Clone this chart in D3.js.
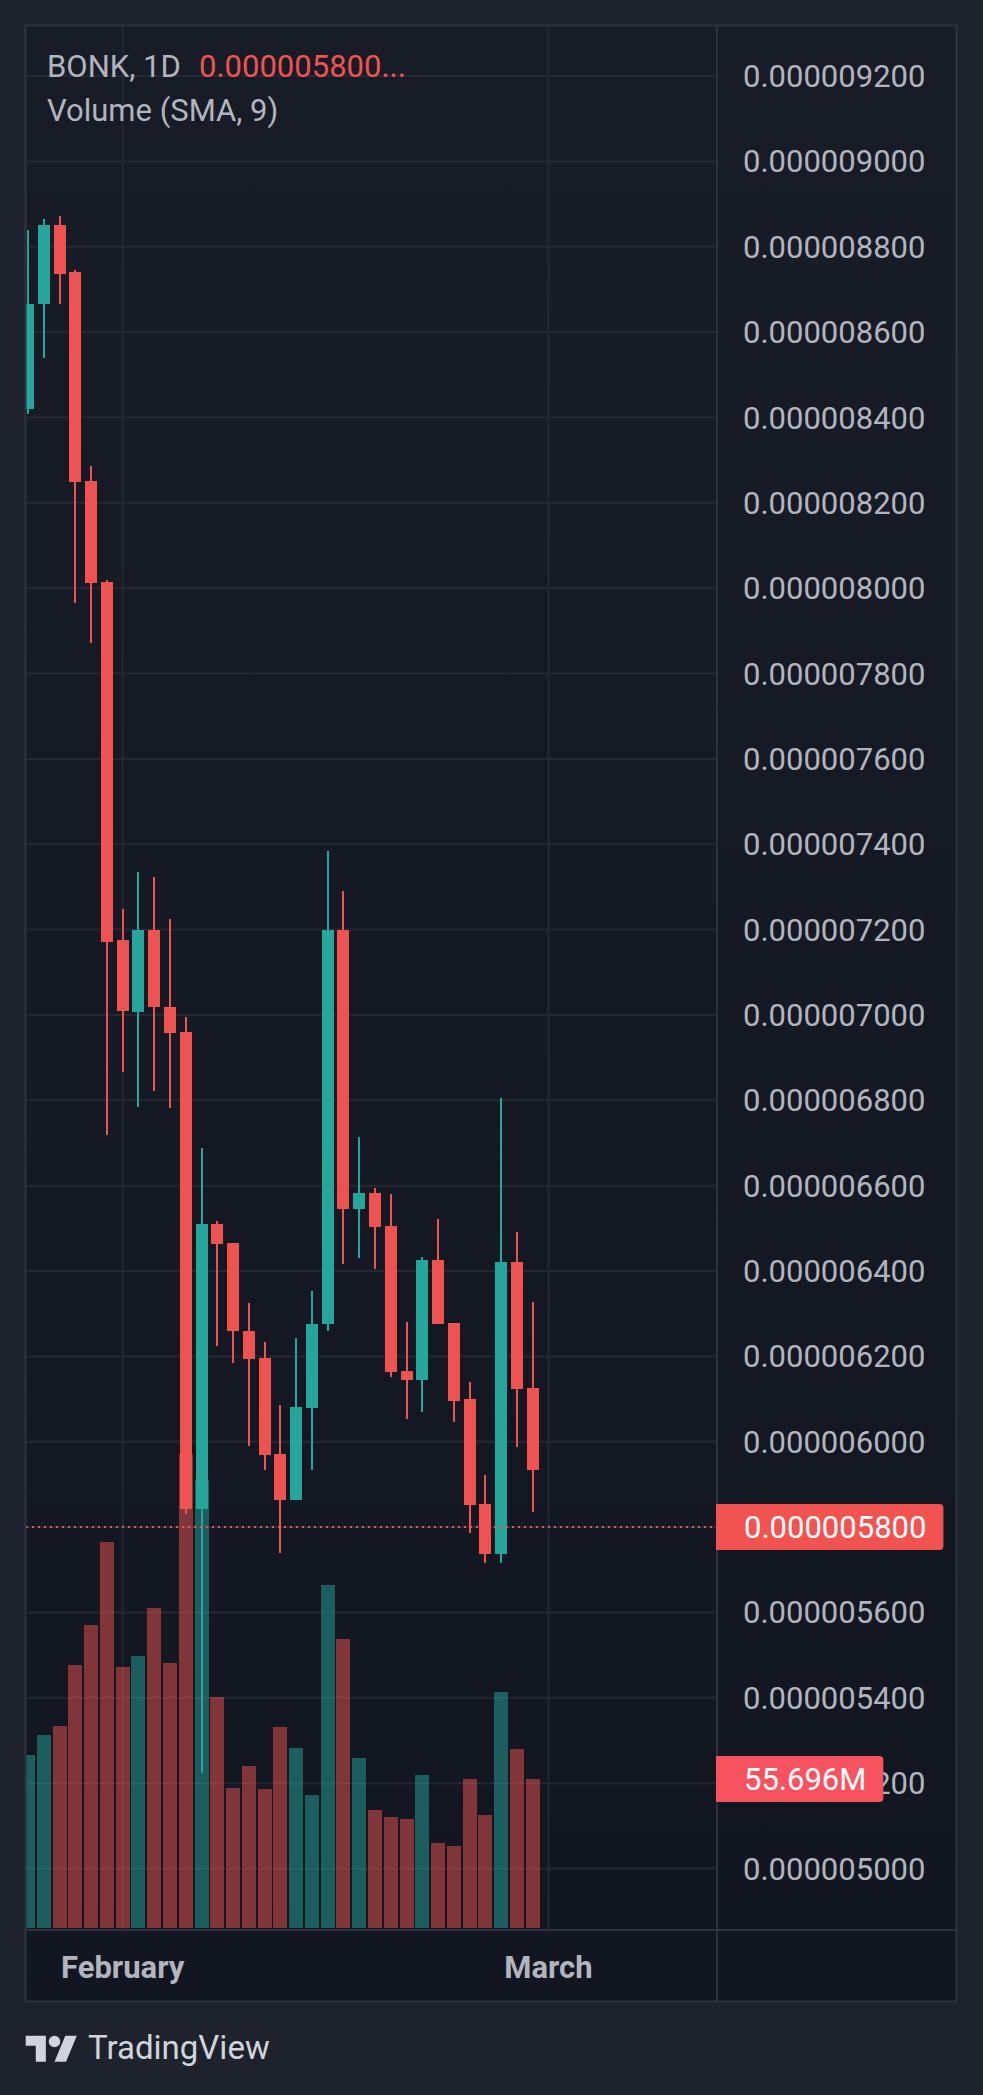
<!DOCTYPE html>
<html lang="en">
<head>
<meta charset="utf-8">
<title>BONK, 1D</title>
<script src="https://cdn.jsdelivr.net/npm/d3@7"></script>
<style>
  body { margin: 0; background: #1e222d; }
  svg { display: block; }
</style>
</head>
<body>
<script>

// daily candles, oldest first
var opens  = [8.419e-6, 8.666e-6, 8.852e-6, 8.740e-6, 8.251e-6, 8.015e-6, 7.175e-6, 7.008e-6, 7.200e-6, 7.019e-6,
              6.960e-6, 5.843e-6, 6.510e-6, 6.466e-6, 6.260e-6, 6.197e-6, 5.972e-6, 5.863e-6, 6.079e-6, 6.275e-6,
              7.199e-6, 6.545e-6, 6.584e-6, 6.506e-6, 6.166e-6, 6.145e-6, 6.427e-6, 6.279e-6, 6.099e-6, 5.855e-6,
              5.736e-6, 6.421e-6, 6.127e-6];
var highs  = [8.840e-6, 8.864e-6, 8.872e-6, 8.746e-6, 8.287e-6, 8.019e-6, 7.249e-6, 7.336e-6, 7.324e-6, 7.224e-6,
              6.996e-6, 6.688e-6, 6.518e-6, 6.466e-6, 6.325e-6, 6.234e-6, 6.085e-6, 6.243e-6, 6.354e-6, 7.385e-6,
              7.290e-6, 6.713e-6, 6.594e-6, 6.581e-6, 6.281e-6, 6.433e-6, 6.522e-6, 6.279e-6, 6.139e-6, 5.922e-6,
              6.806e-6, 6.491e-6, 6.328e-6];
var lows   = [8.408e-6, 8.540e-6, 8.666e-6, 7.966e-6, 7.872e-6, 6.718e-6, 6.867e-6, 6.785e-6, 6.821e-6, 6.781e-6,
              5.831e-6, 5.224e-6, 6.225e-6, 6.185e-6, 5.991e-6, 5.933e-6, 5.740e-6, 5.863e-6, 5.934e-6, 6.260e-6,
              6.416e-6, 6.431e-6, 6.404e-6, 6.152e-6, 6.054e-6, 6.069e-6, 6.276e-6, 6.046e-6, 5.787e-6, 5.715e-6,
              5.717e-6, 5.987e-6, 5.836e-6];
var closes = [8.667e-6, 8.852e-6, 8.737e-6, 8.248e-6, 8.012e-6, 7.172e-6, 7.010e-6, 7.200e-6, 7.018e-6, 6.957e-6,
              5.843e-6, 6.510e-6, 6.464e-6, 6.260e-6, 6.194e-6, 5.970e-6, 5.863e-6, 6.082e-6, 6.276e-6, 7.199e-6,
              6.545e-6, 6.584e-6, 6.503e-6, 6.164e-6, 6.145e-6, 6.427e-6, 6.276e-6, 6.096e-6, 5.852e-6, 5.736e-6,
              6.421e-6, 6.124e-6, 5.933e-6];
// volume in millions
var volumes = [64.7, 72.1, 75.5, 98.3, 113.3, 144.3, 97.6, 101.7, 119.6, 99.1,
               177.2, 167.5, 86.4, 52.3, 60.6, 52.0, 75.1, 67.3, 49.7, 128.2,
               108.0, 63.6, 44.1, 41.5, 40.7, 57.2, 31.8, 30.7, 55.7, 42.2,
               88.2, 66.9, 55.696];

var priceTicks = [5.0e-6, 5.2e-6, 5.4e-6, 5.6e-6, 5.8e-6, 6.0e-6, 6.2e-6, 6.4e-6, 6.6e-6, 6.8e-6, 7.0e-6,
                  7.2e-6, 7.4e-6, 7.6e-6, 7.8e-6, 8.0e-6, 8.2e-6, 8.4e-6, 8.6e-6, 8.8e-6, 9.0e-6, 9.2e-6];
var monthTicks = [6, 33];          // bar index where the month starts
var monthLabels = ["February", "March"];
var lastPrice = 5.8e-6;

var symbolText = "BONK, 1D";
var lastText = "0.000005800...";
var volumeText = "Volume (SMA, 9)";

//colors
var upColor = "#26a69a";
var downColor = "#ef5350";
var textColor = "#b2b5be";
var gridColor = "#242833";
var borderColor = "#2e323e";

//layout (note: "top" is taken by window, so pane* names)
var w = 983;
var h = 2095;
var paneLeft = 26, paneTop = 26, paneRight = 956, paneBottom = 2001;
var axisX = 717;    // price scale separator
var timeY = 1929;   // time scale separator
var fontSize = 31;
var fontFamily = "Roboto, 'Noto Sans', sans-serif";

var bars = d3.range(closes.length).map(function(i) {
  return {i: i, o: opens[i], h: highs[i], l: lows[i], c: closes[i], v: volumes[i]};
});

var xScale = d3.scaleLinear()
    .domain([0, closes.length - 1])
    .range([28.1, 532.7]);

var yScale = d3.scaleLinear()
    .domain([5.0e-6, 9.2e-6])
    .range([1868.5, 76.1]);

var vScale = d3.scaleLinear()
    .domain([0, d3.max(volumes)])
    .range([1928, 1454]);

var priceFormat = d3.format(".9f");

var svg = d3.select("body")
    .append("svg")
    .attr("width", w)
    .attr("height", h);

var defs = svg.append("defs");
var grad = defs.append("linearGradient")
    .attr("id", "bg")
    .attr("x1", 0).attr("y1", 0)
    .attr("x2", 0).attr("y2", 1);
grad.append("stop").attr("offset", "0%").attr("stop-color", "#181c27");
grad.append("stop").attr("offset", "100%").attr("stop-color", "#121620");

defs.append("clipPath")
    .attr("id", "plot")
    .append("rect")
    .attr("x", paneLeft)
    .attr("y", paneTop)
    .attr("width", axisX - paneLeft)
    .attr("height", timeY - paneTop);

svg.append("rect")
    .attr("width", w)
    .attr("height", h)
    .attr("fill", "#1e222d");

svg.append("rect")
    .attr("x", paneLeft)
    .attr("y", paneTop)
    .attr("width", paneRight - paneLeft)
    .attr("height", paneBottom - paneTop)
    .attr("fill", "url(#bg)");

//grid
var grid = svg.append("g")
    .attr("clip-path", "url(#plot)")
    .attr("stroke", gridColor)
    .attr("stroke-width", 2);

grid.selectAll("line.h")
    .data(priceTicks)
    .enter()
    .append("line")
    .attr("class", "h")
    .attr("x1", paneLeft)
    .attr("x2", axisX)
    .attr("y1", function(d) { return yScale(d); })
    .attr("y2", function(d) { return yScale(d); });

grid.selectAll("line.v")
    .data(monthTicks)
    .enter()
    .append("line")
    .attr("class", "v")
    .attr("x1", function(d) { return xScale(d); })
    .attr("x2", function(d) { return xScale(d); })
    .attr("y1", paneTop)
    .attr("y2", timeY);

var plot = svg.append("g")
    .attr("clip-path", "url(#plot)")
    .attr("shape-rendering", "crispEdges");

//volume bars
plot.selectAll("rect.vol")
    .data(bars)
    .enter()
    .append("rect")
    .attr("class", "vol")
    .attr("x", function(d) { return xScale(d.i) - 7; })
    .attr("width", 14)
    .attr("y", function(d) { return vScale(d.v); })
    .attr("height", function(d) { return vScale(0) - vScale(d.v); })
    .attr("fill", function(d) { return d.c >= d.o ? upColor : downColor; })
    .attr("fill-opacity", 0.5);

//wicks
plot.selectAll("rect.wick")
    .data(bars)
    .enter()
    .append("rect")
    .attr("class", "wick")
    .attr("x", function(d) { return xScale(d.i) - 1; })
    .attr("width", 2)
    .attr("y", function(d) { return yScale(d.h); })
    .attr("height", function(d) { return yScale(d.l) - yScale(d.h); })
    .attr("fill", function(d) { return d.c >= d.o ? upColor : downColor; });

//bodies
plot.selectAll("rect.body")
    .data(bars)
    .enter()
    .append("rect")
    .attr("class", "body")
    .attr("x", function(d) { return xScale(d.i) - 6; })
    .attr("width", 12)
    .attr("y", function(d) { return yScale(Math.max(d.o, d.c)); })
    .attr("height", function(d) {
      return Math.max(2, Math.abs(yScale(d.o) - yScale(d.c)));
    })
    .attr("fill", function(d) { return d.c >= d.o ? upColor : downColor; });

//last price line
svg.append("line")
    .attr("x1", paneLeft)
    .attr("x2", axisX)
    .attr("y1", yScale(lastPrice))
    .attr("y2", yScale(lastPrice))
    .attr("stroke", downColor)
    .attr("stroke-width", 2)
    .attr("stroke-dasharray", "2 4");

//frame and separators
svg.append("rect")
    .attr("x", paneLeft - 0.5)
    .attr("y", paneTop - 0.5)
    .attr("width", paneRight - paneLeft + 1)
    .attr("height", paneBottom - paneTop + 1)
    .attr("fill", "none")
    .attr("stroke", borderColor)
    .attr("stroke-width", 2);

svg.append("line")
    .attr("x1", axisX).attr("x2", axisX)
    .attr("y1", paneTop).attr("y2", paneBottom)
    .attr("stroke", borderColor)
    .attr("stroke-width", 2);

svg.append("line")
    .attr("x1", paneLeft).attr("x2", paneRight)
    .attr("y1", timeY + 1).attr("y2", timeY + 1)
    .attr("stroke", borderColor)
    .attr("stroke-width", 2);

//price scale labels
svg.selectAll("text.tick")
    .data(priceTicks)
    .enter()
    .append("text")
    .attr("class", "tick")
    .attr("x", 743)
    .attr("y", function(d) { return yScale(d) + 11; })
    .attr("font-family", fontFamily)
    .attr("font-size", fontSize)
    .attr("fill", textColor)
    .text(function(d) { return priceFormat(d); });

// label box with rounded right side, flush against the separator
function axisLabel(y, txt, color) {
  var g = svg.append("g");
  var path = g.append("path").attr("fill", color);
  var t = g.append("text")
      .attr("x", 744)
      .attr("y", y + 11)
      .attr("font-family", fontFamily)
      .attr("font-size", fontSize)
      .attr("fill", "#ffffff")
      .text(txt);
  var x0 = axisX - 1, x1 = 744 + t.node().getComputedTextLength() + 17;
  var y0 = y - 23, y1 = y + 23, r = 4;
  path.attr("d", "M" + x0 + "," + y0 + "H" + (x1 - r) + "Q" + x1 + "," + y0 + " " + x1 + "," + (y0 + r) +
      "V" + (y1 - r) + "Q" + x1 + "," + y1 + " " + (x1 - r) + "," + y1 + "H" + x0 + "Z");
}

axisLabel(yScale(lastPrice), priceFormat(lastPrice), "#f05350");
axisLabel(vScale(volumes[volumes.length - 1]), d3.format(".3f")(volumes[volumes.length - 1]) + "M", "#f7525f");

//time scale labels
svg.selectAll("text.month")
    .data(monthTicks)
    .enter()
    .append("text")
    .attr("class", "month")
    .attr("x", function(d) { return xScale(d); })
    .attr("y", 1978)
    .attr("text-anchor", "middle")
    .attr("font-family", fontFamily)
    .attr("font-size", fontSize)
    .attr("font-weight", "bold")
    .attr("fill", textColor)
    .text(function(d, i) { return monthLabels[i]; });

//legend
svg.append("text")
    .attr("x", 47)
    .attr("y", 77)
    .attr("font-family", fontFamily)
    .attr("font-size", fontSize)
    .attr("fill", textColor)
    .text(symbolText);

svg.append("text")
    .attr("x", 199)
    .attr("y", 77)
    .attr("font-family", fontFamily)
    .attr("font-size", fontSize)
    .attr("fill", "#f05350")
    .text(lastText);

svg.append("text")
    .attr("x", 47)
    .attr("y", 121)
    .attr("font-family", fontFamily)
    .attr("font-size", fontSize)
    .attr("fill", textColor)
    .text(volumeText);

//tradingview mark
var logo = svg.append("g")
    .attr("transform", "translate(25.7,2030) scale(1.44)")
    .attr("fill", "#d1d4dc");
logo.append("path").attr("d", "M14 22H7V11H0V4h14v18zM28 22h-8l7.5-18h8L28 22z");
logo.append("circle").attr("cx", 20).attr("cy", 8).attr("r", 4);

svg.append("text")
    .attr("x", 88)
    .attr("y", 2059)
    .attr("font-family", fontFamily)
    .attr("font-size", 33)
    .attr("fill", "#d1d4dc")
    .text("TradingView");

</script>
</body>
</html>
